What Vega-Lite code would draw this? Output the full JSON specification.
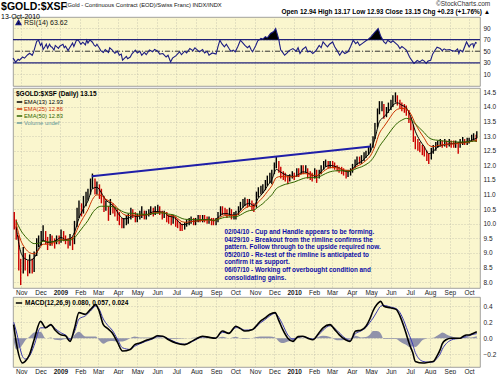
{
"$schema": "https://vega.github.io/schema/vega-lite/v6.json",
"background": "#ffffff",
"padding": {"left": 1, "top": 0, "right": 2, "bottom": 1},
"title": {"text": "$GOLD:$XSF", "subtitle": "13-Oct-2010", "anchor": "start", "font": "Liberation Sans", "fontSize": 10.5, "fontWeight": "bold", "color": "#000", "subtitleFont": "Liberation Sans", "subtitleFontSize": 7, "subtitleColor": "#000", "subtitlePadding": 0, "offset": -19, "dx": -9},
"spacing": 0,
"resolve": {"scale": {"color": "independent", "x": "independent", "y": "independent"}, "legend": {"color": "independent"}},
"datasets": {
"bars": [
{"d":"2008-10-21","h":10.4,"l":9.8,"t":"dn"},{"d":"2008-10-24","h":10.15,"l":9.45,"t":"dn"},{"d":"2008-10-28","h":9.6,"l":8.4,"t":"dn"},{"d":"2008-10-31","h":8.8,"l":7.9,"t":"dn"},{"d":"2008-11-04","h":9.2,"l":8.3,"t":"up"},{"d":"2008-11-07","h":9.0,"l":8.4,"t":"dn"},{"d":"2008-11-11","h":8.75,"l":8.2,"t":"dn"},{"d":"2008-11-14","h":8.95,"l":8.3,"t":"up"},{"d":"2008-11-18","h":8.8,"l":8.3,"t":"dn"},{"d":"2008-11-21","h":9.05,"l":8.35,"t":"up"},{"d":"2008-11-25","h":9.5,"l":8.9,"t":"up"},{"d":"2008-11-28","h":9.6,"l":9.2,"t":"up"},{"d":"2008-12-02","h":9.75,"l":9.25,"t":"up"},{"d":"2008-12-05","h":9.95,"l":9.4,"t":"up"},{"d":"2008-12-09","h":9.75,"l":9.3,"t":"dn"},{"d":"2008-12-12","h":9.55,"l":9.1,"t":"dn"},{"d":"2008-12-16","h":9.65,"l":9.25,"t":"up"},{"d":"2008-12-19","h":9.6,"l":9.25,"t":"dn"},{"d":"2008-12-23","h":9.5,"l":9.15,"t":"dn"},{"d":"2008-12-26","h":9.6,"l":9.3,"t":"up"},{"d":"2008-12-30","h":9.6,"l":9.3,"t":"dn"},
{"d":"2009-01-02","h":9.8,"l":9.35,"t":"up"},{"d":"2009-01-06","h":9.75,"l":9.4,"t":"dn"},{"d":"2009-01-09","h":9.6,"l":9.3,"t":"dn"},{"d":"2009-01-13","h":9.5,"l":9.15,"t":"dn"},{"d":"2009-01-16","h":9.65,"l":9.25,"t":"up"},{"d":"2009-01-20","h":9.55,"l":9.1,"t":"dn"},{"d":"2009-01-23","h":10.1,"l":9.3,"t":"up"},{"d":"2009-01-27","h":10.55,"l":9.9,"t":"up"},{"d":"2009-01-30","h":10.8,"l":10.2,"t":"up"},{"d":"2009-02-03","h":10.7,"l":10.25,"t":"dn"},{"d":"2009-02-06","h":10.95,"l":10.35,"t":"up"},{"d":"2009-02-10","h":11.1,"l":10.6,"t":"up"},{"d":"2009-02-13","h":11.2,"l":10.8,"t":"up"},{"d":"2009-02-17","h":11.55,"l":11.0,"t":"up"},{"d":"2009-02-20","h":11.72,"l":11.2,"t":"up"},{"d":"2009-02-24","h":11.55,"l":11.0,"t":"dn"},{"d":"2009-02-27","h":11.45,"l":11.0,"t":"up"},{"d":"2009-03-03","h":11.35,"l":10.85,"t":"dn"},{"d":"2009-03-06","h":11.2,"l":10.7,"t":"dn"},{"d":"2009-03-10","h":10.95,"l":10.4,"t":"dn"},{"d":"2009-03-13","h":10.8,"l":10.45,"t":"up"},{"d":"2009-03-17","h":10.6,"l":10.1,"t":"dn"},{"d":"2009-03-20","h":10.85,"l":10.3,"t":"up"},{"d":"2009-03-24","h":10.7,"l":10.35,"t":"dn"},{"d":"2009-03-27","h":10.6,"l":10.25,"t":"dn"},{"d":"2009-03-31","h":10.5,"l":10.1,"t":"dn"},{"d":"2009-04-03","h":10.4,"l":9.95,"t":"dn"},{"d":"2009-04-07","h":10.2,"l":9.85,"t":"dn"},{"d":"2009-04-10","h":10.2,"l":9.85,"t":"up"},{"d":"2009-04-14","h":10.3,"l":9.95,"t":"up"},{"d":"2009-04-17","h":10.35,"l":10.0,"t":"up"},{"d":"2009-04-21","h":10.55,"l":10.15,"t":"up"},{"d":"2009-04-24","h":10.5,"l":10.2,"t":"dn"},{"d":"2009-04-28","h":10.4,"l":10.05,"t":"dn"},{"d":"2009-05-01","h":10.35,"l":10.05,"t":"up"},{"d":"2009-05-05","h":10.45,"l":10.15,"t":"up"},{"d":"2009-05-08","h":10.6,"l":10.2,"t":"up"},{"d":"2009-05-12","h":10.45,"l":10.15,"t":"dn"},{"d":"2009-05-15","h":10.45,"l":10.15,"t":"up"},{"d":"2009-05-19","h":10.5,"l":10.25,"t":"up"},{"d":"2009-05-22","h":10.6,"l":10.3,"t":"up"},{"d":"2009-05-26","h":10.55,"l":10.25,"t":"dn"},{"d":"2009-05-29","h":10.6,"l":10.3,"t":"up"},{"d":"2009-06-02","h":10.65,"l":10.35,"t":"up"},{"d":"2009-06-05","h":10.6,"l":10.3,"t":"dn"},{"d":"2009-06-09","h":10.45,"l":10.15,"t":"dn"},{"d":"2009-06-12","h":10.45,"l":10.2,"t":"up"},{"d":"2009-06-16","h":10.4,"l":10.05,"t":"dn"},{"d":"2009-06-19","h":10.3,"l":10.0,"t":"dn"},{"d":"2009-06-23","h":10.25,"l":9.95,"t":"dn"},{"d":"2009-06-26","h":10.3,"l":10.0,"t":"up"},{"d":"2009-06-30","h":10.25,"l":9.9,"t":"dn"},{"d":"2009-07-03","h":10.15,"l":9.85,"t":"dn"},{"d":"2009-07-07","h":10.05,"l":9.75,"t":"dn"},{"d":"2009-07-10","h":10.0,"l":9.75,"t":"dn"},{"d":"2009-07-14","h":10.05,"l":9.8,"t":"up"},{"d":"2009-07-17","h":10.15,"l":9.9,"t":"up"},{"d":"2009-07-21","h":10.2,"l":9.95,"t":"up"},{"d":"2009-07-24","h":10.25,"l":10.0,"t":"up"},{"d":"2009-07-28","h":10.2,"l":9.95,"t":"dn"},{"d":"2009-07-31","h":10.2,"l":9.95,"t":"up"},{"d":"2009-08-04","h":10.3,"l":10.05,"t":"up"},{"d":"2009-08-07","h":10.3,"l":10.05,"t":"dn"},{"d":"2009-08-11","h":10.3,"l":10.05,"t":"up"},{"d":"2009-08-14","h":10.3,"l":10.05,"t":"dn"},{"d":"2009-08-18","h":10.25,"l":10.0,"t":"dn"},{"d":"2009-08-21","h":10.25,"l":10.0,"t":"up"},{"d":"2009-08-25","h":10.2,"l":9.95,"t":"dn"},{"d":"2009-08-28","h":10.2,"l":9.95,"t":"dn"},{"d":"2009-09-01","h":10.2,"l":9.95,"t":"up"},{"d":"2009-09-04","h":10.4,"l":10.05,"t":"up"},{"d":"2009-09-08","h":10.6,"l":10.25,"t":"up"},{"d":"2009-09-11","h":10.6,"l":10.3,"t":"dn"},{"d":"2009-09-15","h":10.55,"l":10.3,"t":"dn"},{"d":"2009-09-18","h":10.5,"l":10.2,"t":"dn"},{"d":"2009-09-22","h":10.55,"l":10.25,"t":"up"},{"d":"2009-09-25","h":10.5,"l":10.15,"t":"dn"},{"d":"2009-09-29","h":10.4,"l":10.15,"t":"up"},{"d":"2009-10-02","h":10.45,"l":10.15,"t":"up"},{"d":"2009-10-06","h":10.6,"l":10.3,"t":"up"},{"d":"2009-10-09","h":10.75,"l":10.45,"t":"up"},{"d":"2009-10-13","h":10.85,"l":10.55,"t":"up"},{"d":"2009-10-16","h":10.9,"l":10.6,"t":"up"},{"d":"2009-10-20","h":10.85,"l":10.55,"t":"dn"},{"d":"2009-10-23","h":10.85,"l":10.6,"t":"up"},{"d":"2009-10-27","h":10.8,"l":10.45,"t":"dn"},{"d":"2009-10-30","h":10.7,"l":10.4,"t":"dn"},{"d":"2009-11-03","h":11.1,"l":10.55,"t":"up"},{"d":"2009-11-06","h":11.25,"l":10.9,"t":"up"},{"d":"2009-11-10","h":11.3,"l":11.0,"t":"up"},{"d":"2009-11-13","h":11.35,"l":11.05,"t":"up"},{"d":"2009-11-17","h":11.5,"l":11.15,"t":"up"},{"d":"2009-11-20","h":11.65,"l":11.3,"t":"up"},{"d":"2009-11-24","h":11.75,"l":11.4,"t":"up"},{"d":"2009-11-27","h":11.85,"l":11.35,"t":"up"},{"d":"2009-12-01","h":12.1,"l":11.7,"t":"up"},{"d":"2009-12-04","h":12.3,"l":11.9,"t":"up"},{"d":"2009-12-08","h":12.15,"l":11.75,"t":"dn"},{"d":"2009-12-11","h":11.95,"l":11.55,"t":"dn"},{"d":"2009-12-15","h":11.8,"l":11.5,"t":"dn"},{"d":"2009-12-18","h":11.75,"l":11.45,"t":"dn"},{"d":"2009-12-22","h":11.65,"l":11.35,"t":"dn"},{"d":"2009-12-25","h":11.7,"l":11.45,"t":"up"},{"d":"2009-12-29","h":11.8,"l":11.55,"t":"up"},
{"d":"2010-01-01","h":11.75,"l":11.5,"t":"dn"},{"d":"2010-01-05","h":11.9,"l":11.6,"t":"up"},{"d":"2010-01-08","h":11.9,"l":11.6,"t":"dn"},{"d":"2010-01-12","h":12.0,"l":11.7,"t":"up"},{"d":"2010-01-15","h":12.0,"l":11.7,"t":"dn"},{"d":"2010-01-19","h":12.0,"l":11.75,"t":"up"},{"d":"2010-01-22","h":11.9,"l":11.55,"t":"dn"},{"d":"2010-01-26","h":11.8,"l":11.5,"t":"dn"},{"d":"2010-01-29","h":11.75,"l":11.45,"t":"dn"},{"d":"2010-02-02","h":11.9,"l":11.55,"t":"up"},{"d":"2010-02-05","h":11.85,"l":11.4,"t":"dn"},{"d":"2010-02-09","h":11.85,"l":11.55,"t":"up"},{"d":"2010-02-12","h":12.0,"l":11.7,"t":"up"},{"d":"2010-02-16","h":12.15,"l":11.85,"t":"up"},{"d":"2010-02-19","h":12.2,"l":11.95,"t":"up"},{"d":"2010-02-23","h":12.15,"l":11.9,"t":"dn"},{"d":"2010-02-26","h":12.15,"l":11.9,"t":"up"},{"d":"2010-03-02","h":12.15,"l":11.9,"t":"dn"},{"d":"2010-03-05","h":12.1,"l":11.85,"t":"dn"},{"d":"2010-03-09","h":12.0,"l":11.8,"t":"dn"},{"d":"2010-03-12","h":11.95,"l":11.75,"t":"dn"},{"d":"2010-03-16","h":11.95,"l":11.7,"t":"dn"},{"d":"2010-03-19","h":11.9,"l":11.65,"t":"dn"},{"d":"2010-03-23","h":11.85,"l":11.55,"t":"dn"},{"d":"2010-03-26","h":11.85,"l":11.6,"t":"up"},{"d":"2010-03-30","h":11.9,"l":11.65,"t":"up"},{"d":"2010-04-02","h":12.05,"l":11.75,"t":"up"},{"d":"2010-04-06","h":12.2,"l":11.9,"t":"up"},{"d":"2010-04-09","h":12.3,"l":12.0,"t":"up"},{"d":"2010-04-13","h":12.3,"l":12.05,"t":"dn"},{"d":"2010-04-16","h":12.35,"l":12.05,"t":"up"},{"d":"2010-04-20","h":12.45,"l":12.15,"t":"up"},{"d":"2010-04-23","h":12.5,"l":12.25,"t":"up"},{"d":"2010-04-27","h":12.65,"l":12.35,"t":"up"},{"d":"2010-04-30","h":12.75,"l":12.45,"t":"up"},{"d":"2010-05-04","h":13.0,"l":12.6,"t":"up"},{"d":"2010-05-07","h":13.45,"l":12.9,"t":"up"},{"d":"2010-05-11","h":13.95,"l":13.3,"t":"up"},{"d":"2010-05-14","h":14.2,"l":13.75,"t":"up"},{"d":"2010-05-18","h":14.2,"l":13.85,"t":"up"},{"d":"2010-05-21","h":14.1,"l":13.6,"t":"dn"},{"d":"2010-05-25","h":14.0,"l":13.65,"t":"up"},{"d":"2010-05-28","h":14.15,"l":13.8,"t":"up"},{"d":"2010-06-01","h":14.25,"l":13.9,"t":"up"},{"d":"2010-06-04","h":14.4,"l":14.0,"t":"up"},{"d":"2010-06-08","h":14.5,"l":14.15,"t":"up"},{"d":"2010-06-11","h":14.4,"l":14.05,"t":"dn"},{"d":"2010-06-15","h":14.25,"l":13.95,"t":"dn"},{"d":"2010-06-18","h":14.15,"l":13.85,"t":"dn"},{"d":"2010-06-22","h":14.1,"l":13.8,"t":"dn"},{"d":"2010-06-25","h":14.05,"l":13.7,"t":"dn"},{"d":"2010-06-29","h":13.9,"l":13.45,"t":"dn"},{"d":"2010-07-02","h":13.65,"l":13.2,"t":"dn"},{"d":"2010-07-06","h":13.4,"l":12.8,"t":"dn"},{"d":"2010-07-09","h":13.0,"l":12.55,"t":"dn"},{"d":"2010-07-13","h":12.9,"l":12.5,"t":"dn"},{"d":"2010-07-16","h":12.8,"l":12.45,"t":"dn"},{"d":"2010-07-20","h":12.7,"l":12.35,"t":"dn"},{"d":"2010-07-23","h":12.65,"l":12.3,"t":"dn"},{"d":"2010-07-27","h":12.5,"l":12.15,"t":"dn"},{"d":"2010-07-30","h":12.4,"l":12.05,"t":"dn"},{"d":"2010-08-03","h":12.6,"l":12.2,"t":"up"},{"d":"2010-08-06","h":12.7,"l":12.4,"t":"up"},{"d":"2010-08-10","h":12.8,"l":12.5,"t":"up"},{"d":"2010-08-13","h":12.85,"l":12.6,"t":"up"},{"d":"2010-08-17","h":12.9,"l":12.65,"t":"up"},{"d":"2010-08-20","h":12.85,"l":12.6,"t":"dn"},{"d":"2010-08-24","h":12.9,"l":12.65,"t":"up"},{"d":"2010-08-27","h":12.85,"l":12.6,"t":"dn"},{"d":"2010-08-31","h":12.9,"l":12.65,"t":"up"},{"d":"2010-09-03","h":12.85,"l":12.6,"t":"dn"},{"d":"2010-09-07","h":12.85,"l":12.6,"t":"dn"},{"d":"2010-09-10","h":12.85,"l":12.6,"t":"up"},{"d":"2010-09-14","h":12.8,"l":12.4,"t":"dn"},{"d":"2010-09-17","h":12.9,"l":12.6,"t":"up"},{"d":"2010-09-21","h":12.97,"l":12.7,"t":"up"},{"d":"2010-09-24","h":12.9,"l":12.7,"t":"dn"},{"d":"2010-09-28","h":12.95,"l":12.7,"t":"up"},{"d":"2010-10-01","h":12.95,"l":12.75,"t":"up"},{"d":"2010-10-05","h":13.05,"l":12.8,"t":"up"},{"d":"2010-10-08","h":13.1,"l":12.85,"t":"up"},{"d":"2010-10-12","h":13.05,"l":12.8,"t":"dn"},{"d":"2010-10-13","h":13.17,"l":12.93,"t":"up"}
],
"ema": [
{"d":"2008-10-24","e13":9.9,"e25":10.0,"e50":10.1},{"d":"2008-10-31","e13":9.04,"e25":9.44,"e50":9.78},{"d":"2008-11-07","e13":8.8,"e25":9.16,"e50":9.57},{"d":"2008-11-14","e13":8.75,"e25":9.01,"e50":9.41},{"d":"2008-11-21","e13":8.83,"e25":8.97,"e50":9.32},{"d":"2008-11-28","e13":9.14,"e25":9.11,"e50":9.33},{"d":"2008-12-05","e13":9.44,"e25":9.3,"e50":9.4},{"d":"2008-12-12","e13":9.36,"e25":9.3,"e50":9.38},{"d":"2008-12-19","e13":9.38,"e25":9.33,"e50":9.38},{"d":"2008-12-26","e13":9.44,"e25":9.39,"e50":9.4},
{"d":"2009-01-02","e13":9.53,"e25":9.46,"e50":9.44},{"d":"2009-01-09","e13":9.46,"e25":9.44,"e50":9.43},{"d":"2009-01-16","e13":9.48,"e25":9.46,"e50":9.44},{"d":"2009-01-23","e13":9.71,"e25":9.61,"e50":9.52},{"d":"2009-01-30","e13":10.19,"e25":9.94,"e50":9.71},{"d":"2009-02-06","e13":10.52,"e25":10.22,"e50":9.91},{"d":"2009-02-13","e13":10.78,"e25":10.48,"e50":10.11},{"d":"2009-02-20","e13":11.2,"e25":10.83,"e50":10.37},{"d":"2009-02-27","e13":11.25,"e25":10.99,"e50":10.54},{"d":"2009-03-06","e13":11.06,"e25":10.96,"e50":10.6},{"d":"2009-03-13","e13":10.81,"e25":10.84,"e50":10.6},{"d":"2009-03-20","e13":10.7,"e25":10.76,"e50":10.6},{"d":"2009-03-27","e13":10.54,"e25":10.64,"e50":10.56},{"d":"2009-04-03","e13":10.3,"e25":10.46,"e50":10.48},{"d":"2009-04-10","e13":10.17,"e25":10.32,"e50":10.4},{"d":"2009-04-17","e13":10.19,"e25":10.28,"e50":10.36},{"d":"2009-04-24","e13":10.28,"e25":10.3,"e50":10.36},{"d":"2009-05-01","e13":10.24,"e25":10.27,"e50":10.33},{"d":"2009-05-08","e13":10.3,"e25":10.3,"e50":10.33},{"d":"2009-05-15","e13":10.3,"e25":10.3,"e50":10.32},{"d":"2009-05-22","e13":10.38,"e25":10.35,"e50":10.34},{"d":"2009-05-29","e13":10.42,"e25":10.38,"e50":10.36},{"d":"2009-06-05","e13":10.41,"e25":10.39,"e50":10.37},{"d":"2009-06-12","e13":10.38,"e25":10.38,"e50":10.37},{"d":"2009-06-19","e13":10.26,"e25":10.3,"e50":10.33},{"d":"2009-06-26","e13":10.23,"e25":10.27,"e50":10.31},{"d":"2009-07-03","e13":10.11,"e25":10.18,"e50":10.25},{"d":"2009-07-10","e13":9.97,"e25":10.07,"e50":10.18},{"d":"2009-07-17","e13":9.99,"e25":10.05,"e50":10.15},{"d":"2009-07-24","e13":10.08,"e25":10.08,"e50":10.15},{"d":"2009-07-31","e13":10.09,"e25":10.09,"e50":10.14},{"d":"2009-08-07","e13":10.12,"e25":10.11,"e50":10.14},{"d":"2009-08-14","e13":10.14,"e25":10.12,"e50":10.14},{"d":"2009-08-21","e13":10.15,"e25":10.13,"e50":10.14},{"d":"2009-08-28","e13":10.1,"e25":10.1,"e50":10.12},{"d":"2009-09-04","e13":10.21,"e25":10.17,"e50":10.15},{"d":"2009-09-11","e13":10.34,"e25":10.26,"e50":10.2},{"d":"2009-09-18","e13":10.35,"e25":10.29,"e50":10.23},{"d":"2009-09-25","e13":10.3,"e25":10.28,"e50":10.23},{"d":"2009-10-02","e13":10.3,"e25":10.29,"e50":10.24},{"d":"2009-10-09","e13":10.46,"e25":10.39,"e50":10.3},{"d":"2009-10-16","e13":10.64,"e25":10.53,"e50":10.39},{"d":"2009-10-23","e13":10.7,"e25":10.6,"e50":10.45},{"d":"2009-10-30","e13":10.62,"e25":10.58,"e50":10.47},{"d":"2009-11-06","e13":10.88,"e25":10.75,"e50":10.58},{"d":"2009-11-13","e13":11.05,"e25":10.9,"e50":10.69},{"d":"2009-11-20","e13":11.29,"e25":11.1,"e50":10.84},{"d":"2009-11-27","e13":11.51,"e25":11.3,"e50":10.99},{"d":"2009-12-04","e13":11.86,"e25":11.58,"e50":11.2},{"d":"2009-12-11","e13":11.77,"e25":11.62,"e50":11.29},{"d":"2009-12-18","e13":11.68,"e25":11.61,"e50":11.35},{"d":"2009-12-25","e13":11.64,"e25":11.61,"e50":11.39},
{"d":"2010-01-01","e13":11.62,"e25":11.61,"e50":11.43},{"d":"2010-01-08","e13":11.69,"e25":11.66,"e50":11.49},{"d":"2010-01-15","e13":11.78,"e25":11.72,"e50":11.55},{"d":"2010-01-22","e13":11.74,"e25":11.71,"e50":11.58},{"d":"2010-01-29","e13":11.66,"e25":11.67,"e50":11.58},{"d":"2010-02-05","e13":11.63,"e25":11.65,"e50":11.58},{"d":"2010-02-12","e13":11.78,"e25":11.73,"e50":11.64},{"d":"2010-02-19","e13":11.95,"e25":11.85,"e50":11.72},{"d":"2010-02-26","e13":12.0,"e25":11.92,"e50":11.78},{"d":"2010-03-05","e13":11.97,"e25":11.93,"e50":11.81},{"d":"2010-03-12","e13":11.91,"e25":11.9,"e50":11.82},{"d":"2010-03-19","e13":11.82,"e25":11.85,"e50":11.81},{"d":"2010-03-26","e13":11.78,"e25":11.82,"e50":11.8},{"d":"2010-04-02","e13":11.87,"e25":11.86,"e50":11.83},{"d":"2010-04-09","e13":12.05,"e25":11.97,"e50":11.9},{"d":"2010-04-16","e13":12.13,"e25":12.05,"e50":11.95},{"d":"2010-04-23","e13":12.28,"e25":12.17,"e50":12.03},{"d":"2010-04-30","e13":12.48,"e25":12.33,"e50":12.14},{"d":"2010-05-07","e13":12.92,"e25":12.65,"e50":12.35},{"d":"2010-05-14","e13":13.5,"e25":13.1,"e50":12.65},{"d":"2010-05-21","e13":13.66,"e25":13.33,"e50":12.86},{"d":"2010-05-28","e13":13.84,"e25":13.55,"e50":13.07},{"d":"2010-06-04","e13":14.06,"e25":13.78,"e50":13.28},{"d":"2010-06-11","e13":14.14,"e25":13.92,"e50":13.45},{"d":"2010-06-18","e13":14.06,"e25":13.95,"e50":13.55},{"d":"2010-06-25","e13":13.97,"e25":13.93,"e50":13.61},{"d":"2010-07-02","e13":13.66,"e25":13.76,"e50":13.57},{"d":"2010-07-09","e13":13.17,"e25":13.43,"e50":13.42},{"d":"2010-07-16","e13":12.86,"e25":13.16,"e50":13.27},{"d":"2010-07-23","e13":12.64,"e25":12.93,"e50":13.12},{"d":"2010-07-30","e13":12.4,"e25":12.69,"e50":12.95},{"d":"2010-08-06","e13":12.48,"e25":12.64,"e50":12.88},{"d":"2010-08-13","e13":12.63,"e25":12.68,"e50":12.86},{"d":"2010-08-20","e13":12.69,"e25":12.7,"e50":12.84},{"d":"2010-08-27","e13":12.72,"e25":12.72,"e50":12.82},{"d":"2010-09-03","e13":12.74,"e25":12.73,"e50":12.81},{"d":"2010-09-10","e13":12.75,"e25":12.74,"e50":12.8},{"d":"2010-09-17","e13":12.78,"e25":12.76,"e50":12.8},{"d":"2010-09-24","e13":12.79,"e25":12.77,"e50":12.8},{"d":"2010-10-01","e13":12.82,"e25":12.8,"e50":12.81},{"d":"2010-10-08","e13":12.89,"e25":12.84,"e50":12.83},{"d":"2010-10-13","e13":12.93,"e25":12.86,"e50":12.83}
],
"rsi": [
{"d":"2008-10-19","r":38},{"d":"2008-10-21","r":35},{"d":"2008-10-23","r":31},{"d":"2008-10-27","r":36},{"d":"2008-10-29","r":34.5},{"d":"2008-11-03","r":40},{"d":"2008-11-06","r":38},{"d":"2008-11-11","r":44},{"d":"2008-11-14","r":46.5},{"d":"2008-11-18","r":43},{"d":"2008-11-20","r":48},{"d":"2008-11-25","r":67},{"d":"2008-11-28","r":69},{"d":"2008-12-01","r":60},{"d":"2008-12-03","r":64},{"d":"2008-12-05","r":53},{"d":"2008-12-08","r":58},{"d":"2008-12-10","r":62},{"d":"2008-12-12","r":55},{"d":"2008-12-15","r":62},{"d":"2008-12-17","r":58},{"d":"2008-12-19","r":57},{"d":"2008-12-22","r":52},{"d":"2008-12-24","r":60},{"d":"2008-12-29","r":55},{"d":"2008-12-31","r":58.6},
{"d":"2009-01-05","r":62},{"d":"2009-01-07","r":56},{"d":"2009-01-09","r":58.6},{"d":"2009-01-13","r":51},{"d":"2009-01-15","r":55},{"d":"2009-01-20","r":64},{"d":"2009-01-22","r":58},{"d":"2009-01-26","r":69},{"d":"2009-01-29","r":69},{"d":"2009-02-02","r":62},{"d":"2009-02-05","r":65.5},{"d":"2009-02-09","r":61},{"d":"2009-02-11","r":69},{"d":"2009-02-13","r":64},{"d":"2009-02-16","r":69.5},{"d":"2009-02-20","r":65.5},{"d":"2009-02-23","r":60},{"d":"2009-02-25","r":58.6},{"d":"2009-02-27","r":62},{"d":"2009-03-03","r":55},{"d":"2009-03-05","r":51},{"d":"2009-03-09","r":48},{"d":"2009-03-12","r":53},{"d":"2009-03-17","r":48},{"d":"2009-03-19","r":56},{"d":"2009-03-23","r":52},{"d":"2009-03-27","r":46.5},{"d":"2009-03-31","r":50},{"d":"2009-04-03","r":43},{"d":"2009-04-06","r":45},{"d":"2009-04-08","r":34.5},{"d":"2009-04-14","r":41},{"d":"2009-04-16","r":37},{"d":"2009-04-20","r":40},{"d":"2009-04-23","r":46},{"d":"2009-04-28","r":52},{"d":"2009-05-01","r":47},{"d":"2009-05-05","r":50},{"d":"2009-05-08","r":43},{"d":"2009-05-12","r":48},{"d":"2009-05-15","r":44},{"d":"2009-05-20","r":52},{"d":"2009-05-25","r":49},{"d":"2009-05-28","r":53},{"d":"2009-06-02","r":50},{"d":"2009-06-05","r":45},{"d":"2009-06-10","r":46},{"d":"2009-06-15","r":40},{"d":"2009-06-18","r":43},{"d":"2009-06-22","r":31.5},{"d":"2009-06-25","r":38},{"d":"2009-06-30","r":42},{"d":"2009-07-06","r":49},{"d":"2009-07-09","r":44},{"d":"2009-07-14","r":50},{"d":"2009-07-17","r":47},{"d":"2009-07-22","r":54.6},{"d":"2009-07-27","r":51},{"d":"2009-07-30","r":56},{"d":"2009-08-03","r":52},{"d":"2009-08-06","r":49},{"d":"2009-08-11","r":53},{"d":"2009-08-14","r":47},{"d":"2009-08-18","r":50},{"d":"2009-08-21","r":43},{"d":"2009-08-26","r":47},{"d":"2009-09-01","r":45},{"d":"2009-09-04","r":58},{"d":"2009-09-07","r":69},{"d":"2009-09-10","r":63},{"d":"2009-09-14","r":57.5},{"d":"2009-09-17","r":62},{"d":"2009-09-21","r":55},{"d":"2009-09-24","r":50},{"d":"2009-09-28","r":52},{"d":"2009-10-01","r":49},{"d":"2009-10-05","r":58},{"d":"2009-10-09","r":69},{"d":"2009-10-13","r":64},{"d":"2009-10-16","r":60},{"d":"2009-10-20","r":56},{"d":"2009-10-23","r":59},{"d":"2009-10-26","r":52},{"d":"2009-10-28","r":49},{"d":"2009-11-02","r":60},{"d":"2009-11-05","r":68},{"d":"2009-11-08","r":70},{"d":"2009-11-10","r":72},{"d":"2009-11-13","r":71},{"d":"2009-11-17","r":75},{"d":"2009-11-20","r":73},{"d":"2009-11-25","r":80.5},{"d":"2009-11-30","r":84},{"d":"2009-12-03","r":89},{"d":"2009-12-06","r":77.6},{"d":"2009-12-08","r":70},{"d":"2009-12-09","r":63},{"d":"2009-12-11","r":52},{"d":"2009-12-14","r":48},{"d":"2009-12-17","r":43},{"d":"2009-12-21","r":47},{"d":"2009-12-24","r":51},{"d":"2009-12-30","r":54.6},
{"d":"2010-01-04","r":50},{"d":"2010-01-07","r":56},{"d":"2010-01-10","r":46},{"d":"2010-01-14","r":53},{"d":"2010-01-19","r":57.5},{"d":"2010-01-22","r":49},{"d":"2010-01-26","r":50},{"d":"2010-01-30","r":46},{"d":"2010-02-04","r":51},{"d":"2010-02-09","r":60},{"d":"2010-02-12","r":56},{"d":"2010-02-15","r":66},{"d":"2010-02-19","r":61},{"d":"2010-02-22","r":57.5},{"d":"2010-02-25","r":62},{"d":"2010-03-02","r":66},{"d":"2010-03-05","r":58},{"d":"2010-03-09","r":51},{"d":"2010-03-13","r":43},{"d":"2010-03-17","r":50},{"d":"2010-03-21","r":46},{"d":"2010-03-26","r":49},{"d":"2010-03-30","r":58},{"d":"2010-04-03","r":69},{"d":"2010-04-07","r":63},{"d":"2010-04-10","r":66},{"d":"2010-04-13","r":60},{"d":"2010-04-18","r":64},{"d":"2010-04-23","r":68},{"d":"2010-04-26","r":70},{"d":"2010-05-01","r":75},{"d":"2010-05-07","r":83},{"d":"2010-05-12","r":89},{"d":"2010-05-16","r":76},{"d":"2010-05-19","r":70},{"d":"2010-05-21","r":66},{"d":"2010-05-24","r":63},{"d":"2010-05-27","r":69},{"d":"2010-06-01","r":65},{"d":"2010-06-04","r":68},{"d":"2010-06-09","r":63},{"d":"2010-06-12","r":60},{"d":"2010-06-15","r":54.6},{"d":"2010-06-18","r":58},{"d":"2010-06-22","r":55},{"d":"2010-06-25","r":52},{"d":"2010-06-30","r":40},{"d":"2010-07-03","r":35},{"d":"2010-07-07","r":29},{"d":"2010-07-12","r":34},{"d":"2010-07-16","r":31.5},{"d":"2010-07-20","r":35},{"d":"2010-07-23","r":33},{"d":"2010-07-26","r":29},{"d":"2010-07-29","r":33},{"d":"2010-08-02","r":34.5},{"d":"2010-08-05","r":45},{"d":"2010-08-09","r":52},{"d":"2010-08-12","r":57},{"d":"2010-08-17","r":54.6},{"d":"2010-08-20","r":51},{"d":"2010-08-23","r":54},{"d":"2010-08-26","r":52},{"d":"2010-09-01","r":53},{"d":"2010-09-04","r":51},{"d":"2010-09-09","r":50},{"d":"2010-09-13","r":54},{"d":"2010-09-15","r":46},{"d":"2010-09-17","r":52},{"d":"2010-09-21","r":49},{"d":"2010-09-27","r":66},{"d":"2010-10-01","r":57.5},{"d":"2010-10-04","r":62},{"d":"2010-10-07","r":63},{"d":"2010-10-08","r":57},{"d":"2010-10-11","r":65},{"d":"2010-10-13","r":63.62}
],
"macd": [
{"d":"2008-10-20","m":0.17,"s":0.2,"h":-0.03},{"d":"2008-10-24","m":-0.05,"s":0.09,"h":-0.14},{"d":"2008-11-03","m":-0.31,"s":-0.23,"h":-0.08},{"d":"2008-11-07","m":-0.29,"s":-0.26,"h":-0.03},{"d":"2008-11-14","m":-0.2,"s":-0.22,"h":0.02},{"d":"2008-11-21","m":-0.02,"s":-0.09,"h":0.07},{"d":"2008-12-01","m":0.21,"s":0.13,"h":0.08},{"d":"2008-12-09","m":0.13,"s":0.13,"h":0.0},{"d":"2008-12-17","m":0.17,"s":0.16,"h":0.01},{"d":"2008-12-24","m":0.1,"s":0.12,"h":-0.02},
{"d":"2009-01-01","m":0.045,"s":0.07,"h":-0.025},{"d":"2009-01-09","m":0.03,"s":0.04,"h":-0.01},{"d":"2009-01-16","m":-0.04,"s":-0.01,"h":-0.03},{"d":"2009-01-23","m":0.12,"s":0.08,"h":0.04},{"d":"2009-01-30","m":0.32,"s":0.24,"h":0.08},{"d":"2009-02-09","m":0.3,"s":0.28,"h":0.02},{"d":"2009-02-17","m":0.36,"s":0.34,"h":0.02},{"d":"2009-02-25","m":0.42,"s":0.4,"h":0.02},{"d":"2009-03-02","m":0.35,"s":0.37,"h":-0.02},{"d":"2009-03-09","m":0.17,"s":0.24,"h":-0.07},{"d":"2009-03-16","m":0.12,"s":0.16,"h":-0.04},{"d":"2009-03-23","m":0.066,"s":0.1,"h":-0.034},{"d":"2009-03-31","m":-0.05,"s":-0.01,"h":-0.04},{"d":"2009-04-08","m":-0.16,"s":-0.12,"h":-0.04},{"d":"2009-04-20","m":-0.14,"s":-0.14,"h":0.0},{"d":"2009-04-27","m":-0.08,"s":-0.1,"h":0.02},{"d":"2009-05-05","m":-0.06,"s":-0.07,"h":0.01},{"d":"2009-05-14","m":-0.03,"s":-0.04,"h":0.01},{"d":"2009-05-25","m":0.0,"s":-0.01,"h":0.01},{"d":"2009-06-02","m":0.03,"s":0.02,"h":0.01},{"d":"2009-06-10","m":0.025,"s":0.02,"h":0.005},{"d":"2009-06-19","m":-0.02,"s":-0.01,"h":-0.01},{"d":"2009-06-30","m":-0.06,"s":-0.05,"h":-0.01},{"d":"2009-07-14","m":-0.08,"s":-0.075,"h":-0.005},{"d":"2009-07-27","m":-0.03,"s":-0.037,"h":0.007},{"d":"2009-08-11","m":0.025,"s":0.016,"h":0.009},{"d":"2009-08-21","m":0.01,"s":0.011,"h":-0.001},{"d":"2009-08-31","m":0.0,"s":0.003,"h":-0.003},{"d":"2009-09-11","m":0.09,"s":0.073,"h":0.017},{"d":"2009-09-21","m":0.06,"s":0.063,"h":-0.003},{"d":"2009-10-02","m":0.15,"s":0.133,"h":0.017},{"d":"2009-10-09","m":0.12,"s":0.124,"h":-0.004},{"d":"2009-10-16","m":0.09,"s":0.101,"h":-0.011},{"d":"2009-10-28","m":0.11,"s":0.108,"h":0.002},{"d":"2009-11-09","m":0.21,"s":0.19,"h":0.02},{"d":"2009-11-16","m":0.25,"s":0.23,"h":0.02},{"d":"2009-11-24","m":0.3,"s":0.28,"h":0.02},{"d":"2009-12-02","m":0.32,"s":0.31,"h":0.01},{"d":"2009-12-08","m":0.22,"s":0.26,"h":-0.04},{"d":"2009-12-14","m":0.11,"s":0.17,"h":-0.06},{"d":"2009-12-22","m":0.0,"s":0.04,"h":-0.04},{"d":"2009-12-30","m":-0.04,"s":-0.01,"h":-0.03},
{"d":"2010-01-07","m":0.02,"s":0.01,"h":0.01},{"d":"2010-01-14","m":0.025,"s":0.02,"h":0.005},{"d":"2010-01-22","m":0.0,"s":0.005,"h":-0.005},{"d":"2010-01-30","m":-0.02,"s":-0.012,"h":-0.008},{"d":"2010-02-08","m":0.06,"s":0.041,"h":0.019},{"d":"2010-02-15","m":0.13,"s":0.1,"h":0.03},{"d":"2010-02-26","m":0.17,"s":0.156,"h":0.014},{"d":"2010-03-05","m":0.11,"s":0.125,"h":-0.015},{"d":"2010-03-12","m":0.045,"s":0.071,"h":-0.026},{"d":"2010-03-22","m":-0.02,"s":-0.002,"h":-0.018},{"d":"2010-03-29","m":-0.04,"s":-0.027,"h":-0.013},{"d":"2010-04-07","m":0.09,"s":0.06,"h":0.03},{"d":"2010-04-15","m":0.1,"s":0.09,"h":0.01},{"d":"2010-04-23","m":0.15,"s":0.134,"h":0.016},{"d":"2010-04-29","m":0.24,"s":0.197,"h":0.043},{"d":"2010-05-04","m":0.34,"s":0.25,"h":0.09},{"d":"2010-05-10","m":0.42,"s":0.33,"h":0.09},{"d":"2010-05-16","m":0.46,"s":0.4,"h":0.06},{"d":"2010-05-21","m":0.4,"s":0.41,"h":-0.01},{"d":"2010-05-31","m":0.38,"s":0.39,"h":-0.01},{"d":"2010-06-09","m":0.36,"s":0.37,"h":-0.01},{"d":"2010-06-15","m":0.28,"s":0.32,"h":-0.04},{"d":"2010-06-21","m":0.15,"s":0.22,"h":-0.07},{"d":"2010-06-25","m":0.05,"s":0.135,"h":-0.085},{"d":"2010-06-30","m":-0.08,"s":0.03,"h":-0.11},{"d":"2010-07-05","m":-0.18,"s":-0.075,"h":-0.105},{"d":"2010-07-09","m":-0.29,"s":-0.18,"h":-0.11},{"d":"2010-07-21","m":-0.31,"s":-0.29,"h":-0.02},{"d":"2010-07-30","m":-0.3,"s":-0.3,"h":0.0},{"d":"2010-08-06","m":-0.29,"s":-0.295,"h":0.005},{"d":"2010-08-12","m":-0.22,"s":-0.25,"h":0.03},{"d":"2010-08-17","m":-0.14,"s":-0.195,"h":0.055},{"d":"2010-08-20","m":-0.07,"s":-0.14,"h":0.07},{"d":"2010-08-26","m":-0.02,"s":-0.07,"h":0.05},{"d":"2010-09-03","m":0.0,"s":-0.023,"h":0.023},{"d":"2010-09-10","m":0.0,"s":-0.008,"h":0.008},{"d":"2010-09-17","m":0.0,"s":-0.003,"h":0.003},{"d":"2010-09-21","m":0.02,"s":0.007,"h":0.013},{"d":"2010-09-27","m":0.04,"s":0.024,"h":0.016},{"d":"2010-10-01","m":0.04,"s":0.031,"h":0.009},{"d":"2010-10-07","m":0.06,"s":0.048,"h":0.012},{"d":"2010-10-13","m":0.08,"s":0.057,"h":0.024}
],
"rim": [{"d":"2009-02-19","v":11.63},{"d":"2010-04-30","v":12.65}]
},
"vconcat": [
{
 "width": 467, "height": 69,
 "title": {"text": "©StockCharts.com", "subtitle": "Open 12.94  High 13.17  Low 12.93  Close 13.15  Chg +0.23 (+1.76%) ▲", "anchor": "end", "font": "Liberation Sans", "fontSize": 6.5, "fontWeight": "normal", "color": "#333", "subtitleFont": "Liberation Sans", "subtitleFontSize": 6.5, "subtitleFontWeight": "bold", "subtitleColor": "#000", "subtitlePadding": 1, "offset": -14},
 "layer": [
  {"data": {"values": [{"lv": 70}, {"lv": 30}]}, "mark": {"type": "rule", "color": "#23237a", "strokeWidth": 1.3},
   "encoding": {"y": {"field": "lv", "type": "quantitative", "scale": {"domain": [-10, 109], "nice": false, "zero": false}, "axis": {"orient": "right", "values": [10, 30, 50, 70, 90], "tickCount": 20, "labelOverlap": false, "grid": true, "title": null}}}},
  {"data": {"values": [{"lv": 50}]}, "mark": {"type": "rule", "color": "#222", "strokeWidth": 0.9, "strokeDash": [5, 2, 1, 2]},
   "encoding": {"y": {"field": "lv", "type": "quantitative"}}},
  {"data": {"name": "rsi"}, "transform": [{"filter": "datum.r >= 70"}], "mark": {"type": "area", "color": "#000"},
   "encoding": {"x": {"field": "d", "type": "temporal", "scale": {"domain": [{"year": 2008, "month": 10, "date": 19}, {"year": 2010, "month": 10, "date": 18}], "nice": false},
     "axis": {"orient": "top", "labels": false, "grid": true, "tickCount": {"interval": "month", "step": 1}, "title": "(Gold - Continuous Contract (EOD)/Swiss Franc) INDX/INDX", "titleX": 52, "titleY": -13, "titleAlign": "left", "titleBaseline": "middle", "titleFont": "Liberation Sans", "titleFontSize": 5.8, "titleFontWeight": "normal", "titleColor": "#111"}},
     "y": {"field": "r", "type": "quantitative"}, "y2": {"datum": 70}}},
  {"data": {"name": "rsi"}, "mark": {"type": "line", "strokeWidth": 1.1},
   "encoding": {"x": {"field": "d", "type": "temporal"}, "y": {"field": "r", "type": "quantitative"},
     "color": {"datum": "RSI(14) 63.62", "type": "nominal", "scale": {"range": ["#1c1c82"]},
       "legend": {"orient": "top-left", "offset": 2, "title": null, "labelFont": "Liberation Sans", "labelFontSize": 7, "labelColor": "#111", "symbolType": "triangle-up", "symbolSize": 20, "symbolFillColor": "#000", "symbolStrokeColor": "#000", "labelOffset": 2, "padding": 0}}}}
 ]
},
{
 "width": 467, "height": 200,
 "layer": [
  {"data": {"name": "bars"}, "mark": {"type": "rule", "strokeWidth": 1.4},
   "encoding": {"x": {"field": "d", "type": "temporal", "scale": {"domain": [{"year": 2008, "month": 10, "date": 19}, {"year": 2010, "month": 10, "date": 18}], "nice": false},
     "axis": {"orient": "bottom", "grid": true, "tickCount": {"interval": "month", "step": 1}, "labelExpr": "month(datum.value) == 0 ? timeFormat(datum.value, '%Y') : timeFormat(datum.value, '%b')", "labelFontWeight": {"condition": {"test": "month(datum.value) == 0", "value": "bold"}, "value": "normal"}, "labelPadding": 1, "labelOverlap": false, "title": null}},
     "y": {"field": "l", "type": "quantitative", "scale": {"domain": [7.8, 14.65], "nice": false, "zero": false},
       "axis": {"orient": "right", "values": [8, 8.5, 9, 9.5, 10, 10.5, 11, 11.5, 12, 12.5, 13, 13.5, 14, 14.5], "tickCount": 40, "format": ".1f", "labelOverlap": false, "grid": true, "title": null}},
     "y2": {"field": "h"},
     "stroke": {"field": "t", "type": "nominal", "scale": {"domain": ["up", "dn"], "range": ["#000000", "#cc0000"]}, "legend": null}}},
  {"data": {"name": "ema"}, "transform": [{"fold": ["e13", "e25", "e50"], "as": ["k", "v"]}],
   "mark": {"type": "line", "strokeWidth": 1, "interpolate": "monotone"},
   "encoding": {"x": {"field": "d", "type": "temporal"}, "y": {"field": "v", "type": "quantitative"},
     "color": {"field": "k", "type": "nominal", "scale": {"domain": ["e13", "e25", "e50", "vol"], "range": ["#000000", "#cc3300", "#336600", "#6a9a9a"]},
       "legend": {"orient": "top-left", "offset": 3, "title": "$GOLD:$XSF (Daily) 13.15", "titleFont": "Liberation Sans", "titleFontSize": 6.5, "titleFontWeight": "bold", "titleColor": "#000", "titlePadding": 1,
         "labelFont": "Liberation Sans", "labelFontSize": 5.8, "labelColor": {"expr": "datum.value == 'e25' ? '#cc3300' : datum.value == 'e50' ? '#336600' : datum.value == 'vol' ? '#5f9595' : '#000000'"}, "symbolType": "stroke", "symbolSize": 30, "symbolStrokeWidth": 1.5, "rowPadding": -2, "labelOffset": 1, "padding": 0,
         "labelExpr": "datum.value == 'e13' ? 'EMA(13) 12.93' : datum.value == 'e25' ? 'EMA(25) 12.86' : datum.value == 'e50' ? 'EMA(50) 12.83' : 'Volume undef'"}}}},
  {"data": {"name": "rim"}, "mark": {"type": "line", "color": "#1f1fa8", "strokeWidth": 2},
   "encoding": {"x": {"field": "d", "type": "temporal"}, "y": {"field": "v", "type": "quantitative"}}},
  {"data": {"values": [{}]}, "mark": {"type": "text", "align": "left", "baseline": "top", "font": "Liberation Sans", "fontSize": 6.4, "fontWeight": "bold", "color": "#0d0da8", "lineHeight": 7.6},
   "encoding": {"x": {"datum": {"year": 2009, "month": 9, "date": 14}, "type": "temporal"}, "y": {"datum": 9.82, "type": "quantitative"},
     "text": {"value": ["02/04/10 - Cup and Handle appears to be forming.", "04/29/10 - Breakout from the rimline confirms the", "pattern.  Follow through to the upside required now.", "05/20/10 - Re-test of the rimline is anticipated to", "confirm it as support.", "06/07/10 - Working off overbought condition and", "consolidating gains."]}}}
 ]
},
{
 "width": 467, "height": 70,
 "layer": [
  {"data": {"name": "macd"}, "mark": {"type": "area", "interpolate": "monotone"},
   "encoding": {"x": {"field": "d", "type": "temporal", "scale": {"domain": [{"year": 2008, "month": 10, "date": 19}, {"year": 2010, "month": 10, "date": 18}], "nice": false},
     "axis": {"orient": "bottom", "grid": true, "tickCount": {"interval": "month", "step": 1}, "labelExpr": "month(datum.value) == 0 ? timeFormat(datum.value, '%Y') : timeFormat(datum.value, '%b')", "labelFontWeight": {"condition": {"test": "month(datum.value) == 0", "value": "bold"}, "value": "normal"}, "labelPadding": 1, "labelOverlap": false, "title": null}},
     "y": {"field": "h", "type": "quantitative", "scale": {"domain": [-0.36, 0.515], "nice": false, "zero": false},
       "axis": {"orient": "right", "values": [-0.2, 0, 0.2, 0.4], "tickCount": 20, "format": ".1f", "labelOverlap": false, "grid": true, "title": null}},
     "y2": {"datum": 0},
     "color": {"datum": "h", "type": "nominal", "scale": {"domain": ["m", "s", "h"], "range": ["#000000", "#3a3ab0", "#9092aa"]}}}},
  {"data": {"name": "macd"}, "mark": {"type": "line", "strokeWidth": 1, "interpolate": "monotone"},
   "encoding": {"x": {"field": "d", "type": "temporal"}, "y": {"field": "s", "type": "quantitative"}, "color": {"datum": "s", "type": "nominal"}}},
  {"data": {"name": "macd"}, "mark": {"type": "line", "strokeWidth": 1.6, "interpolate": "monotone"},
   "encoding": {"x": {"field": "d", "type": "temporal"}, "y": {"field": "m", "type": "quantitative"},
     "color": {"datum": "m", "type": "nominal",
       "legend": {"orient": "top-left", "offset": 2, "title": null, "values": ["m"], "labelFont": "Liberation Sans", "labelFontSize": 6.5, "labelFontWeight": "bold", "labelColor": "#000", "symbolType": "stroke", "symbolSize": 40, "symbolStrokeWidth": 1.5, "labelOffset": 2, "padding": 0,
         "labelExpr": "'MACD(12,26,9) 0.080, 0.057, 0.024'"}}}}
 ]
}
],
"config": {
 "font": "Liberation Sans",
 "view": {"fill": "#FAF6CE", "stroke": "#8a8a8a", "strokeWidth": 0.8},
 "axis": {"labelFont": "Liberation Sans", "labelFontSize": 6.5, "labelColor": "#1a1a1a", "ticks": false, "domain": false, "gridColor": "#b9b9a8", "gridDash": [1, 2], "gridWidth": 0.7, "labelPadding": 3, "labelFlush": false},
 "legend": {"padding": 0}
}
}
